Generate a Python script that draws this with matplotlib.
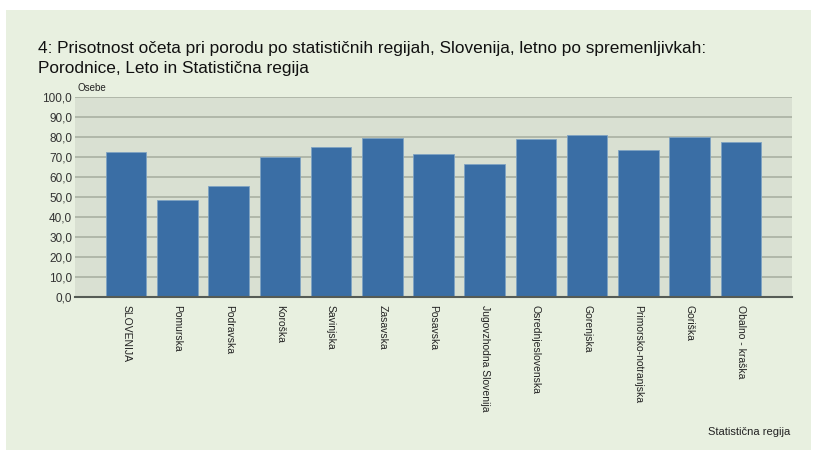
import numpy as np
import matplotlib.pyplot as plt
from matplotlib.patches import Rectangle
from matplotlib.ticker import FuncFormatter

regions = ["SLOVENIJA", "Pomurska", "Podravska", "Koroška", "Savinjska", "Zasavska",
           "Posavska", "Jugovzhodna Slovenija", "Osrednjeslovenska", "Gorenjska",
           "Primorsko-notranjska", "Goriška", "Obalno - kraška"]
values = [72.5, 48.4, 55.5, 70.0, 75.0, 79.3, 71.3, 66.5, 78.8, 81.0, 73.3, 79.8, 77.7]

plt.rcParams['font.family'] = ['Liberation Sans', 'DejaVu Sans']

fig = plt.figure(figsize=(8.14, 4.5), dpi=100, facecolor='white')
# light green panel behind everything
fig.patches.append(Rectangle((6 / 814, 0), 1 - 9 / 814, 1 - 10 / 450,
                             transform=fig.transFigure, facecolor='#e8f0e0',
                             edgecolor='none', zorder=-5))

ax = fig.add_axes([75 / 814, 153 / 450, 717 / 814, 200 / 450])
ax.set_zorder(2)
ax.set_facecolor('#d9e0d2')

x = np.arange(len(regions))
ax.bar(x, values, width=0.79, color='#3a6ea5', edgecolor='#7fa3c3', linewidth=0.6, zorder=3)

ax.set_xlim(-1, len(regions))
ax.set_ylim(0, 100)
ax.set_yticks(np.arange(0, 101, 10))
ax.yaxis.set_major_formatter(FuncFormatter(lambda v, p: f"{v:.1f}".replace('.', ',')))
ax.grid(axis='y', color='#a9b0a2', linewidth=1.2, zorder=1)
ax.tick_params(axis='y', length=0, pad=2, labelsize=8.5, labelcolor='#333333')

ax.set_xticks(x)
ax.set_xticklabels(regions, rotation=270, fontsize=7.5, color='#222222', va='top', ha='center')
ax.tick_params(axis='x', length=0, pad=6)

for s in ['top', 'right', 'left']:
    ax.spines[s].set_visible(False)
ax.spines['bottom'].set_color('#555b55')
ax.spines['bottom'].set_linewidth(1.5)
ax.spines['bottom'].set_zorder(4)

title_lines = ["4: Prisotnost očeta pri porodu po statističnih regijah, Slovenija, letno po spremenljivkah:",
               "Porodnice, Leto in Statistična regija"]
for i, line in enumerate(title_lines):
    fig.text(38 / 814, 1 - (48 + 21 * i) / 450, line,
             fontsize=12.4, color='#111111', va='center', ha='left')
fig.text(77 / 814, 1 - 88 / 450, "Osebe", fontsize=7, color='#222222', va='center', ha='left')
fig.text(790 / 814, 1 - 432 / 450, "Statistična regija", fontsize=8, color='#222222',
         va='center', ha='right')

fig.savefig('out.png', dpi=100, facecolor=fig.get_facecolor())
